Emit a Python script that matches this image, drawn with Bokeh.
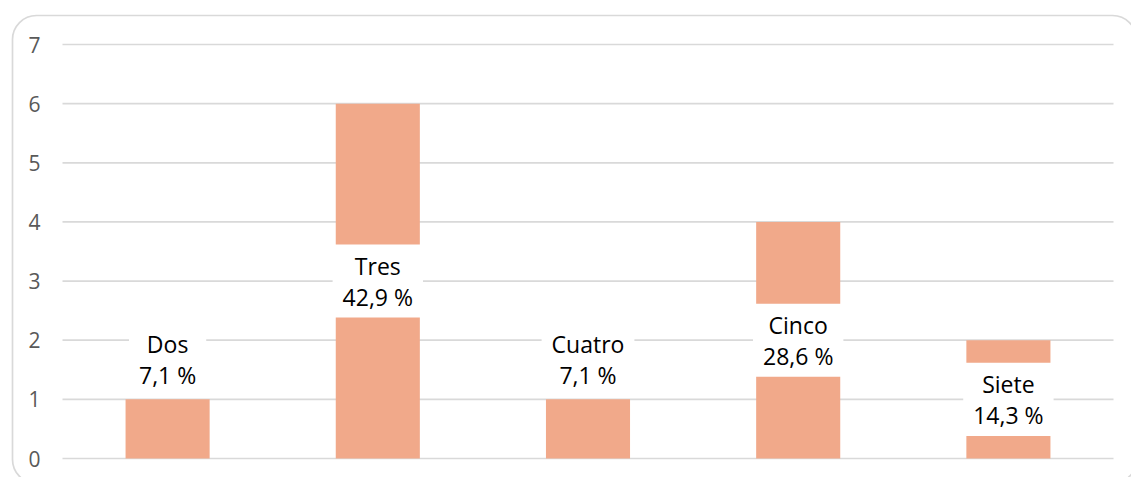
from bokeh.plotting import figure
from bokeh.models import ColumnDataSource, BoxAnnotation, Node, Range1d
from bokeh.core.properties import value
from bokeh.embed import file_html
from bokeh.resources import INLINE

categories = ["Dos", "Tres", "Cuatro", "Cinco", "Siete"]
counts = [1, 6, 1, 4, 2]
percents = ["7,1 %", "42,9 %", "7,1 %", "28,6 %", "14,3 %"]
y_ticks = [0, 1, 2, 3, 4, 5, 6, 7]

W, H = 1131, 477
# plot area in pixels (left, right, top, bottom)
PL, PR, PT, PB = 62, 1113, 44, 458

n = len(categories)
xs = list(range(n))
labels = [f"{c}\n{p}" for c, p in zip(categories, percents)]
# label centred in the bar when it fits, otherwise just above the bar
label_y = [v / 2 if v >= 2 else v + 0.68 for v in counts]

# ranges so that the category bands fill the plot area and 0..7 fills its height
x_per_px = n / (PR - PL)
x0 = -0.5 - PL * x_per_px
x1 = -0.5 + (W - PL) * x_per_px
ymax = max(y_ticks)
y_per_px = ymax / (PB - PT)
y0 = -(H - PB) * y_per_px
y1 = ymax + PT * y_per_px

src = ColumnDataSource(dict(x=xs, count=counts, label=labels, ly=label_y))
grid_src = ColumnDataSource(dict(y=y_ticks, x0=[-0.5] * len(y_ticks), x1=[n - 0.5] * len(y_ticks),
                                 t=[str(t) for t in y_ticks]))

p = figure(
    x_range=Range1d(x0, x1), y_range=Range1d(y0, y1),
    width=W, height=H,
    output_backend="svg", toolbar_location=None,
    x_axis_location=None, y_axis_location=None,
    min_border=0, min_border_left=0, min_border_right=0, min_border_top=0, min_border_bottom=0,
)
p.outline_line_color = None
p.background_fill_color = "white"
p.border_fill_color = "white"
p.xgrid.visible = False
p.ygrid.visible = False

# horizontal gridlines
p.segment(x0="x0", x1="x1", y0="y", y1="y", source=grid_src,
          line_color="#d9d9d9", line_width=1.7)
# y tick labels
p.text(x="x0", y="y", text="t", source=grid_src, x_offset=-22,
       text_align="right", text_baseline="middle",
       text_font=value("Open Sans"), text_font_size="21px", text_color="#595959")

p.vbar(x="x", top="count", width=0.4, source=src,
       fill_color="#F1A98A", line_color=None)

p.text(x="x", y="ly", text="label", source=src,
       text_align="center", text_baseline="middle",
       text_font=value("Open Sans"), text_font_size="23px",
       text_line_height=0.97, text_color="black",
       background_fill_color="white",
       padding=dict(left=10, right=10, top=5, bottom=5))

border = BoxAnnotation(
    left=Node(target="frame", symbol="left", offset=12),
    top=Node(target="frame", symbol="top", offset=15),
    right=Node(target="frame", symbol="right", offset=5),
    bottom=Node(target="frame", symbol="bottom", offset=6),
    fill_color=None, fill_alpha=0,
    line_color="#d9d9d9", line_alpha=1, line_width=1.7,
    border_radius=24,
)
p.add_layout(border)

open("out.html", "w").write(file_html(p, INLINE))
